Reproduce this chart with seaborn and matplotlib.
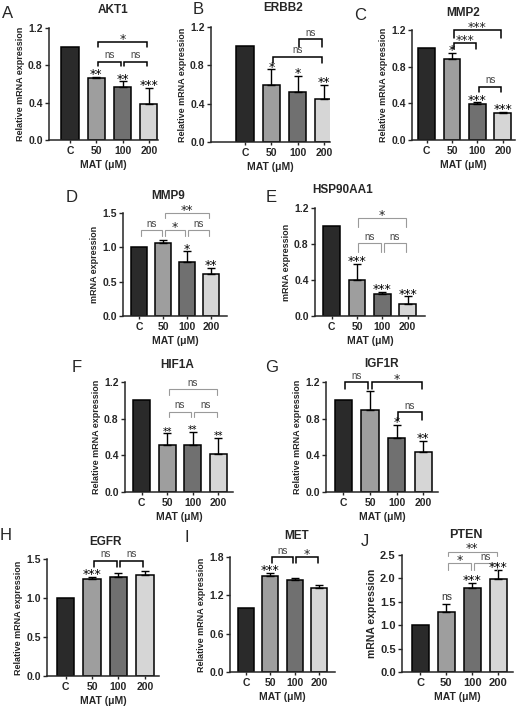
import matplotlib
matplotlib.use("Agg")
import matplotlib.pyplot as plt
import seaborn as sns

# groups and colours shared by every panel
doses = ["C", "50", "100", "200"]
bar_colors = ["#2a2a2a", "#9e9e9e", "#707070", "#d6d6d6"]

genes = ["AKT1", "ERBB2", "MMP2", "MMP9", "HSP90AA1",
         "HIF1A", "IGF1R", "EGFR", "MET", "PTEN"]
letters = ["A", "B", "C", "D", "E", "F", "G", "H", "I", "J"]

# mean relative expression
means = {
    "AKT1": [1.0, 0.66, 0.57, 0.39],
    "ERBB2": [1.0, 0.59, 0.52, 0.45],
    "MMP2": [1.0, 0.88, 0.39, 0.29],
    "MMP9": [1.0, 1.06, 0.78, 0.61],
    "HSP90AA1": [1.0, 0.40, 0.25, 0.13],
    "HIF1A": [1.0, 0.51, 0.51, 0.42],
    "IGF1R": [1.0, 0.89, 0.59, 0.44],
    "EGFR": [1.0, 1.25, 1.27, 1.29],
    "MET": [1.0, 1.50, 1.44, 1.32],
    "PTEN": [1.0, 1.29, 1.79, 1.99],
}

# upper error bar length
errors = {
    "AKT1": [0, 0.02, 0.06, 0.17],
    "ERBB2": [0, 0.17, 0.17, 0.15],
    "MMP2": [0, 0.07, 0.02, 0.02],
    "MMP9": [0, 0.04, 0.16, 0.09],
    "HSP90AA1": [0, 0.18, 0.02, 0.09],
    "HIF1A": [0, 0.13, 0.15, 0.17],
    "IGF1R": [0, 0.21, 0.14, 0.12],
    "EGFR": [0, 0.02, 0.05, 0.05],
    "MET": [0, 0.05, 0.03, 0.04],
    "PTEN": [0, 0.17, 0.12, 0.20],
}

# significance marks vs control
stars = {
    "AKT1": ["", "**", "**", "***"],
    "ERBB2": ["", "*", "*", "**"],
    "MMP2": ["", "*", "***", "***"],
    "MMP9": ["", "", "*", "**"],
    "HSP90AA1": ["", "***", "***", "***"],
    "HIF1A": ["", "**", "**", "**"],
    "IGF1R": ["", "", "*", "**"],
    "EGFR": ["", "***", "", ""],
    "MET": ["", "***", "", ""],
    "PTEN": ["", "ns", "***", "***"],
}

# pairwise comparisons: (group i, group j, label, bracket height, leg drop)
brackets = {
    "AKT1": [(1, 2, "ns", 0.84, 0.05), (2, 3, "ns", 0.84, 0.05), (1, 3, "*", 1.05, 0.05)],
    "ERBB2": [(1, 3, "ns", 0.89, 0.07), (2, 3, "ns", 1.075, 0.08)],
    "MMP2": [(1, 2, "***", 1.06, 0.07), (1, 3, "***", 1.2, 0.09), (2, 3, "ns", 0.58, 0.06)],
    "MMP9": [(0, 1, "ns", 1.25, 0.09), (1, 2, "*", 1.25, 0.09), (2, 3, "ns", 1.25, 0.09),
             (1, 3, "**", 1.5, 0.08)],
    "HSP90AA1": [(1, 2, "ns", 0.81, 0.1), (2, 3, "ns", 0.81, 0.1), (1, 3, "*", 1.09, 0.1)],
    "HIF1A": [(1, 2, "ns", 0.876, 0.06), (2, 3, "ns", 0.876, 0.06), (1, 3, "ns", 1.12, 0.06)],
    "IGF1R": [(0, 1, "ns", 1.2, 0.08), (1, 3, "*", 1.2, 0.08), (2, 3, "ns", 0.87, 0.08)],
    "EGFR": [(1, 2, "ns", 1.48, 0.08), (2, 3, "ns", 1.48, 0.08)],
    "MET": [(1, 2, "ns", 1.8, 0.1), (2, 3, "*", 1.8, 0.1)],
    "PTEN": [(1, 2, "*", 2.32, 0.15), (2, 3, "ns", 2.32, 0.15), (1, 3, "**", 2.57, 0.1)],
}

ylabels = {g: "Relative mRNA expression" for g in genes}
for g in ["MMP9", "HSP90AA1", "PTEN"]:
    ylabels[g] = "mRNA expression"

yticks = {
    "AKT1": [0.0, 0.4, 0.8, 1.2], "ERBB2": [0.0, 0.4, 0.8, 1.2],
    "MMP2": [0.0, 0.4, 0.8, 1.2], "MMP9": [0.0, 0.5, 1.0, 1.5],
    "HSP90AA1": [0.0, 0.4, 0.8, 1.2], "HIF1A": [0.0, 0.4, 0.8, 1.2],
    "IGF1R": [0.0, 0.4, 0.8, 1.2], "EGFR": [0.0, 0.5, 1.0, 1.5],
    "MET": [0.0, 0.6, 1.2, 1.8], "PTEN": [0.0, 0.5, 1.0, 1.5, 2.0, 2.5],
}

# layout in pixels: axes left, right, top, bottom, xlim
W, H = 520, 706
boxes = {
    "AKT1": (49, 158, 28, 140, -0.80, 3.35),
    "ERBB2": (211, 330, 27, 142, -1.30, 3.23),
    "MMP2": (412, 515, 30, 140, -0.58, 3.48),
    "MMP9": (123, 227, 213, 316, -0.68, 3.68),
    "HSP90AA1": (315, 425, 208, 316, -0.66, 3.69),
    "HIF1A": (125, 233, 382, 492, -0.65, 3.58),
    "IGF1R": (326, 438, 382, 492, -0.65, 3.55),
    "EGFR": (47, 159, 559, 676, -0.70, 3.53),
    "MET": (230, 335, 557, 672, -0.66, 3.65),
    "PTEN": (402, 513, 555, 672, -0.70, 3.56),
}
title_pos = {
    "AKT1": (113, 10), "ERBB2": (283, 8), "MMP2": (463, 13), "MMP9": (168, 196),
    "HSP90AA1": (343, 190), "HIF1A": (177, 365), "IGF1R": (382, 364),
    "EGFR": (106, 542), "MET": (297, 536), "PTEN": (466, 535),
}
letter_pos = {
    "A": (8, 13), "B": (198, 10), "C": (360, 15), "D": (72, 197), "E": (271, 197),
    "F": (77, 367), "G": (272, 367), "H": (6, 535), "I": (187, 537), "J": (365, 542),
}
gray_brackets = {"MMP9", "HSP90AA1", "HIF1A", "PTEN"}

sns.set_style("ticks")
plt.rcParams["font.family"] = ["Liberation Sans", "DejaVu Sans"]

fig = plt.figure(figsize=(W / 100, H / 100), dpi=100)

for g, letter in zip(genes, letters):
    l, r, t, b, x0, x1 = boxes[g]
    ax = fig.add_axes([l / W, 1 - b / H, (r - l) / W, (b - t) / H])
    sns.barplot(x=doses, y=means[g], hue=doses, palette=bar_colors, legend=False,
                order=doses, width=0.66, edgecolor="black", linewidth=1.1,
                errorbar=None, ax=ax)
    pos = [i for i, e in enumerate(errors[g]) if e > 0]
    ax.errorbar(pos, [means[g][i] for i in pos],
                yerr=[[0] * len(pos), [errors[g][i] for i in pos]],
                fmt="none", ecolor="black", elinewidth=1.0, capsize=2.8, capthick=1.0)

    big = g == "PTEN"
    fs_tick = 8 if big else 7.5
    ax.set_xlim(x0, x1)
    ax.set_ylim(yticks[g][0], yticks[g][-1])
    ax.set_yticks(yticks[g])
    ax.set_yticklabels([f"{v:.1f}" for v in yticks[g]], fontsize=fs_tick, fontweight="bold")
    ax.set_xticks(range(len(doses)))
    ax.set_xticklabels(doses, fontsize=fs_tick, fontweight="bold")
    ax.tick_params(axis="y", length=3, width=1, pad=1.5)
    ax.tick_params(axis="x", length=2, width=1, pad=2)
    ax.set_ylabel(ylabels[g], fontsize=7.5 if big else 6.5, fontweight="bold", labelpad=2)
    ax.set_xlabel("MAT (μM)", fontsize=7.5, fontweight="bold", labelpad=3)
    sns.despine(ax=ax)
    for s in ["left", "bottom"]:
        ax.spines[s].set_linewidth(1.1)

    # stars over the bars
    for i, s in enumerate(stars[g]):
        if not s:
            continue
        top = means[g][i] + errors[g][i]
        if s == "ns":
            ax.annotate(s, (i, top), xytext=(0, 2.5), textcoords="offset points",
                        ha="center", va="baseline", fontsize=7.5, color="#333333")
        else:
            ax.annotate(s, (i, top), xytext=(0, -1), textcoords="offset points",
                        ha="center", va="baseline", fontsize=7 if g == "HIF1A" else 9,
                        family="DejaVu Sans", color="black")

    # comparison brackets
    gray = g in gray_brackets
    bcol = "#9a9a9a" if gray else "black"
    blw = 0.8 if gray else 1.1
    for i, j, lab, y, leg in brackets[g]:
        xa, xb = i + 0.06, j - 0.06
        ax.plot([xa, xa, xb, xb], [y - leg, y, y, y - leg], color=bcol, lw=blw,
                clip_on=False, solid_joinstyle="miter")
        if lab == "ns":
            ax.annotate(lab, ((xa + xb) / 2, y), xytext=(0, 2.5), textcoords="offset points",
                        ha="center", va="baseline", fontsize=7, color="#444444",
                        annotation_clip=False)
        else:
            ax.annotate(lab, ((xa + xb) / 2, y), xytext=(0, -0.5), textcoords="offset points",
                        ha="center", va="baseline", fontsize=9, family="DejaVu Sans",
                        color="#222222", annotation_clip=False)

    tx, ty = title_pos[g]
    fig.text(tx / W, 1 - ty / H, g, ha="center", va="center",
             fontsize=9 if big else 8.5, fontweight="bold")
    lx, ly = letter_pos[letter]
    fig.text(lx / W, 1 - ly / H, letter, ha="center", va="center", fontsize=12)

fig.savefig("out.png", dpi=100)
